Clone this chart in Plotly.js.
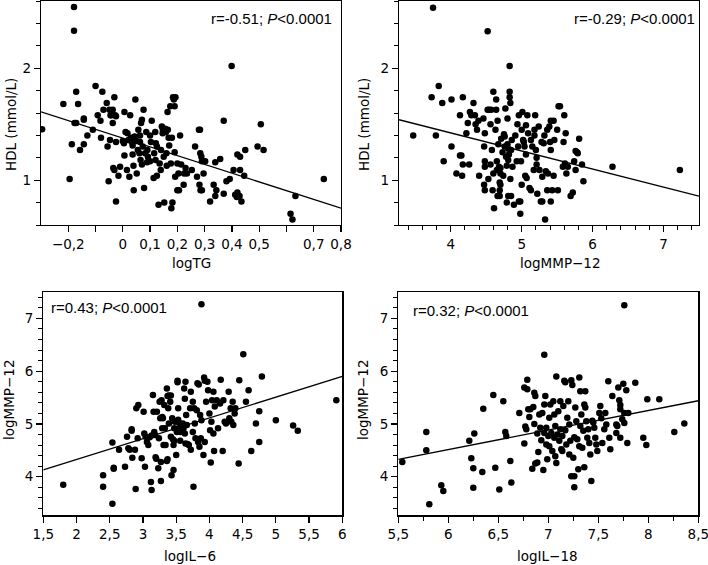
<!DOCTYPE html>
<html>
<head>
<meta charset="utf-8">
<script src="https://cdn.plot.ly/plotly-3.0.1.min.js"></script>
<style>
	html, body {margin:0; padding:0; background:#fff;}
	#myDiv {width:708px; height:565px;}
</style>
</head>
<body>
<div id="myDiv"></div>
<script>
// 散布図データ [x, y]
const pts_TG_HDL = [
	[-0.179,2.546],[-0.179,2.335],[0.399,2.02],[-0.296,1.454],[-0.218,1.68],[-0.171,1.79],[-0.164,1.68],[-0.177,1.51],
	[-0.171,1.51],[-0.143,1.55],[-0.143,1.54],[-0.13,1.40],[-0.11,1.45],[-0.187,1.32],[-0.157,1.27],[-0.143,1.32],
	[-0.195,1.01],[-0.1,1.84],[-0.092,1.58],[-0.082,1.53],[-0.08,1.38],[-0.075,1.79],[-0.071,1.63],[-0.059,1.69],
	[-0.056,1.30],[-0.052,0.99],[-0.049,1.63],[-0.045,1.58],[-0.037,1.63],[-0.043,1.58],[-0.037,1.51],[-0.031,1.74],
	[-0.028,1.58],[-0.025,1.57],[-0.047,1.36],[-0.035,1.11],[-0.031,1.09],[-0.025,1.34],[-0.025,0.81],[-0.016,1.04],
	[0.0,1.35],[0.004,1.33],[0.006,1.61],[0.006,1.22],[0.015,1.09],[0.017,1.42],[0.021,1.36],[0.024,1.03],
	[0.027,1.58],[0.03,1.38],[0.033,1.34],[0.036,1.31],[0.036,1.23],[0.039,1.13],[0.04,0.91],[0.043,1.39],
	[0.046,1.72],[0.051,1.06],[0.055,1.27],[0.057,1.45],[0.061,1.24],[0.063,1.40],[0.063,1.34],[0.067,1.51],
	[0.07,1.54],[0.07,1.14],[0.073,1.30],[0.076,1.63],[0.078,0.93],[0.082,1.24],[0.086,1.43],[0.089,1.16],
	[0.092,1.21],[0.1,1.17],[0.103,1.34],[0.106,1.53],[0.113,1.02],[0.115,1.24],[0.119,1.43],[0.121,1.33],
	[0.125,1.30],[0.125,1.04],[0.131,0.78],[0.135,1.15],[0.139,1.09],[0.143,1.48],[0.146,1.42],[0.147,1.45],
	[0.15,1.21],[0.152,0.80],[0.155,1.46],[0.158,1.43],[0.161,1.13],[0.164,1.61],[0.165,1.45],[0.168,1.38],
	[0.17,1.31],[0.174,1.66],[0.176,1.15],[0.178,0.75],[0.18,1.38],[0.182,0.80],[0.184,1.74],[0.187,1.72],
	[0.19,1.66],[0.193,1.74],[0.19,1.25],[0.192,1.03],[0.2,0.91],[0.206,0.91],[0.204,1.06],[0.21,1.40],
	[0.214,1.14],[0.223,0.96],[0.225,1.06],[0.23,1.11],[0.235,1.06],[0.253,1.09],[0.265,1.30],[0.272,1.03],
	[0.281,0.96],[0.285,0.91],[0.29,0.91],[0.279,1.45],[0.283,1.45],[0.284,1.24],[0.288,1.21],[0.29,1.17],
	[0.296,1.06],[0.302,1.17],[0.32,0.81],[0.333,0.96],[0.339,1.16],[0.339,0.86],[0.343,0.91],[0.357,1.19],
	[0.37,1.53],[0.37,0.88],[0.38,0.99],[0.392,1.01],[0.406,1.09],[0.412,0.87],[0.418,0.85],[0.42,0.89],
	[0.422,0.86],[0.428,0.86],[0.42,1.23],[0.43,1.21],[0.43,1.09],[0.435,0.81],[0.445,1.04],[0.449,1.27],
	[0.494,1.30],[0.506,1.50],[0.516,1.27],[0.615,0.70],[0.622,0.65],[0.633,0.86],[0.737,1.01],
	[0.05,1.35],[0.09,1.27],[0.12,1.18],[0.14,1.27],[0.16,1.24],[0.065,1.18],[0.01,1.43],[0.1,1.40],[0.2,1.15],[-0.01,1.12]
]
const pts_MMP_HDL = [
	[3.75,2.54],[4.52,2.33],[4.83,2.02],[3.47,1.40],[3.73,1.74],[3.83,1.84],[3.79,1.40],[3.88,1.69],[3.90,1.17],
	[4.01,1.72],[4.01,1.30],[4.08,1.06],[4.13,1.58],[4.13,1.22],[4.15,1.22],[4.17,1.74],[4.17,1.14],[4.16,1.04],
	[4.22,1.42],[4.24,1.51],[4.26,1.14],[4.27,1.61],[4.29,1.58],[4.32,1.69],[4.34,1.58],[4.35,1.50],[4.37,1.45],
	[4.39,1.53],[4.40,1.04],[4.46,1.55],[4.47,1.30],[4.47,0.96],[4.48,1.42],[4.48,0.91],[4.48,1.17],[4.48,1.12],
	[4.52,1.63],[4.53,1.01],[4.54,1.63],[4.56,1.50],[4.56,1.14],[4.57,1.63],[4.58,1.27],[4.59,0.91],[4.60,1.79],
	[4.60,1.06],[4.61,0.75],[4.63,1.45],[4.64,1.72],[4.64,1.63],[4.65,1.09],[4.65,1.17],[4.66,0.86],[4.66,1.53],
	[4.67,1.32],[4.68,1.12],[4.69,0.98],[4.70,0.96],[4.69,0.86],[4.70,1.11],[4.70,1.06],[4.69,0.91],[4.71,1.37],
	[4.73,1.25],[4.74,1.04],[4.75,1.41],[4.76,1.39],[4.76,1.30],[4.77,1.64],[4.78,1.21],[4.79,0.80],[4.79,1.13],
	[4.80,1.55],[4.80,1.32],[4.81,1.28],[4.81,1.18],[4.82,1.23],[4.83,1.79],[4.83,1.74],[4.84,1.69],[4.84,1.01],
	[4.85,1.27],[4.81,0.86],[4.85,0.86],[4.86,1.36],[4.87,1.12],[4.89,0.78],[4.91,1.40],[4.93,1.17],[4.94,1.50],
	[4.95,1.30],[4.96,1.58],[4.96,0.81],[4.98,0.81],[4.98,0.70],[4.99,1.17],[5.00,0.96],[5.00,1.45],[5.01,1.61],
	[5.02,1.36],[5.03,1.34],[5.04,1.30],[5.05,1.04],[5.07,1.02],[5.06,1.49],[5.06,1.23],[5.08,1.58],[5.09,1.42],
	[5.11,0.93],[5.13,0.91],[5.13,1.36],[5.15,1.30],[5.17,1.09],[5.18,1.45],[5.18,1.40],[5.19,1.58],[5.20,1.27],
	[5.21,1.20],[5.21,1.14],[5.22,0.88],[5.24,1.48],[5.25,1.09],[5.27,0.81],[5.29,0.81],[5.28,1.34],[5.29,1.03],
	[5.31,1.33],[5.32,1.40],[5.33,0.65],[5.34,1.08],[5.37,1.06],[5.36,1.45],[5.36,0.91],[5.39,1.48],[5.40,1.34],
	[5.41,1.27],[5.41,1.53],[5.41,0.81],[5.43,0.91],[5.45,1.53],[5.45,1.04],[5.46,1.36],[5.50,1.45],[5.51,0.91],
	[5.52,1.66],[5.54,1.66],[5.58,1.12],[5.59,1.34],[5.60,1.58],[5.61,1.15],[5.62,1.42],[5.63,1.06],[5.65,1.12],
	[5.69,0.86],[5.72,0.89],[5.74,1.17],[5.76,1.26],[5.78,1.25],[5.79,1.24],[5.76,1.09],[5.81,1.37],[5.85,1.14],
	[5.87,0.99],[6.28,1.12],[7.23,1.09]
]
const pts_IL6_MMP = [
	[3.88,7.27],[4.51,6.32],[1.80,3.85],[2.40,4.03],[2.40,3.81],[2.54,3.49],[2.54,4.65],[2.56,4.17],[2.56,4.15],
	[2.64,4.51],[2.73,4.19],[2.76,4.76],[2.78,4.54],[2.80,4.51],[2.83,4.90],[2.83,4.87],[2.84,4.36],[2.88,4.51],
	[2.89,3.77],[2.90,5.30],[2.93,5.36],[2.92,4.73],[2.98,4.35],[3.01,5.23],[3.02,4.82],[3.03,4.19],[3.04,4.76],
	[3.06,4.66],[3.08,4.60],[3.10,4.75],[3.13,4.78],[3.12,3.90],[3.13,3.75],[3.15,5.55],[3.16,5.23],[3.17,4.85],
	[3.18,4.79],[3.19,4.37],[3.20,4.34],[3.21,5.23],[3.23,4.16],[3.24,4.73],[3.25,5.42],[3.26,5.11],[3.27,4.28],
	[3.27,3.92],[3.28,5.45],[3.29,4.92],[3.29,5.13],[3.30,5.11],[3.31,4.60],[3.32,5.36],[3.33,4.92],[3.34,4.60],
	[3.36,4.30],[3.37,4.33],[3.36,5.67],[3.37,5.53],[3.39,5.54],[3.38,5.30],[3.39,5.01],[3.41,5.42],[3.42,4.76],
	[3.42,5.54],[3.43,4.03],[3.44,5.11],[3.45,4.71],[3.47,4.68],[3.46,4.13],[3.46,4.60],[3.47,4.92],[3.48,5.04],
	[3.50,4.41],[3.51,4.85],[3.52,5.82],[3.52,5.79],[3.53,5.08],[3.54,5.03],[3.53,5.30],[3.54,4.92],[3.56,4.85],
	[3.56,4.68],[3.58,4.98],[3.60,5.01],[3.61,4.92],[3.62,5.67],[3.63,5.48],[3.63,4.82],[3.64,4.63],[3.64,5.80],
	[3.65,5.17],[3.66,4.98],[3.67,4.62],[3.69,4.60],[3.71,5.30],[3.72,4.51],[3.72,5.61],[3.75,5.42],[3.75,4.85],
	[3.76,3.81],[3.77,5.30],[3.78,5.01],[3.79,4.73],[3.81,5.26],[3.82,5.77],[3.83,4.66],[3.84,5.75],[3.85,4.57],
	[3.86,5.17],[3.87,4.73],[3.88,5.07],[3.91,4.41],[3.92,5.88],[3.93,5.82],[3.93,4.66],[3.95,5.42],[3.97,5.80],
	[3.98,5.64],[4.00,5.20],[4.01,4.88],[4.02,4.27],[4.03,5.04],[4.04,5.45],[4.06,5.61],[4.06,4.82],[4.07,4.49],
	[4.08,5.33],[4.11,5.45],[4.13,4.92],[4.16,5.39],[4.17,5.84],[4.20,4.49],[4.21,5.45],[4.23,5.04],[4.25,5.01],
	[4.29,5.61],[4.30,5.11],[4.32,5.30],[4.33,5.04],[4.35,5.42],[4.36,4.98],[4.38,5.20],[4.39,5.30],[4.44,4.25],
	[4.45,5.83],[4.55,5.42],[4.59,5.64],[4.63,4.49],[4.70,5.01],[4.75,5.24],[4.75,4.66],[4.79,5.90],[5.00,5.07],
	[5.26,4.97],[5.33,4.87],[5.91,5.45]
]
const pts_IL18_MMP = [
	[7.76,7.25],[6.96,6.31],[5.54,4.28],[5.78,4.85],[5.78,4.50],[5.81,3.48],[5.93,3.84],[5.95,3.73],[6.21,4.68],
	[6.23,4.35],[6.26,4.82],[6.25,4.16],[6.25,3.79],[6.35,5.29],[6.34,4.09],[6.45,5.55],[6.47,4.17],[6.51,3.76],
	[6.55,5.43],[6.57,4.85],[6.58,4.77],[6.62,4.30],[6.63,3.89],[6.71,5.21],[6.76,5.69],[6.76,4.63],[6.77,4.95],
	[6.79,5.84],[6.79,5.66],[6.78,4.90],[6.80,5.28],[6.82,5.28],[6.81,5.13],[6.85,5.32],[6.86,5.59],[6.87,5.53],
	[6.86,5.00],[6.87,4.25],[6.89,4.27],[6.84,4.15],[6.89,4.82],[6.90,4.47],[6.91,5.18],[6.92,4.93],[6.93,4.69],
	[6.94,5.21],[6.95,4.13],[6.96,5.37],[6.96,4.83],[6.97,5.53],[6.98,4.93],[6.98,4.61],[6.99,4.33],[7.00,4.77],
	[7.01,5.12],[7.01,4.58],[7.02,5.37],[7.03,4.83],[7.04,4.49],[7.05,5.43],[7.06,4.74],[7.06,5.18],[7.07,4.96],
	[7.07,4.39],[7.08,5.90],[7.08,4.26],[7.09,4.80],[7.10,5.24],[7.11,4.68],[7.12,4.90],[7.12,5.43],[7.13,4.52],
	[7.14,4.49],[7.14,4.77],[7.15,5.34],[7.16,5.82],[7.17,5.79],[7.17,4.88],[7.18,4.61],[7.19,5.12],[7.20,5.43],
	[7.21,4.99],[7.21,4.42],[7.22,4.68],[7.23,4.01],[7.26,4.01],[7.23,5.83],[7.24,5.74],[7.25,4.36],[7.26,4.75],
	[7.26,3.80],[7.27,5.31],[7.28,5.05],[7.29,4.71],[7.30,4.14],[7.31,5.88],[7.31,4.58],[7.32,5.62],[7.32,4.96],
	[7.33,5.18],[7.34,4.55],[7.35,4.87],[7.36,4.18],[7.36,5.37],[7.37,5.31],[7.37,5.62],[7.38,5.05],[7.39,4.74],
	[7.40,4.90],[7.41,4.64],[7.42,4.42],[7.43,3.92],[7.44,5.06],[7.45,5.03],[7.46,4.93],[7.47,4.74],[7.48,4.61],
	[7.49,4.49],[7.51,5.21],[7.52,5.34],[7.53,5.11],[7.54,4.64],[7.56,4.90],[7.57,5.21],[7.58,4.99],[7.60,5.81],
	[7.61,4.74],[7.62,4.52],[7.64,5.53],[7.68,4.99],[7.69,4.96],[7.68,4.83],[7.70,5.69],[7.71,5.45],[7.72,5.36],
	[7.72,4.74],[7.72,5.28],[7.74,5.09],[7.75,5.76],[7.76,5.02],[7.76,5.21],[7.78,5.64],[7.79,4.64],[7.80,5.21],
	[7.87,5.78],[7.95,4.74],[7.98,4.60],[7.99,5.47],[8.11,5.47],[8.26,4.85],[8.36,5.01]
]

// 回帰直線（端点）
const fit_TG_HDL   = {x:[-0.3, 0.8], y:[1.61, 0.75]}
const fit_MMP_HDL  = {x:[3.27, 7.5], y:[1.54, 0.857]}
const fit_IL6_MMP  = {x:[1.5, 6],    y:[4.13, 5.90]}
const fit_IL18_MMP = {x:[5.5, 8.5],  y:[4.33, 5.44]}

// 相関係数ラベル
const rLabels = ['r=-0.51; <i>P</i><0.0001', 'r=-0.29; <i>P</i><0.0001', 'r=0.43; <i>P</i><0.0001', 'r=0.32; <i>P</i><0.0001']

// 軸目盛
const tgTickVals = [-0.2,-0.1,0,0.1,0.2,0.3,0.4,0.5,0.6,0.7,0.8]
const tgTickText = ['\u22120,2','','0','0,1','0,2','0,3','0,4','0,5','','0,7','0,8']

// 表示設定
const dot = (pts, xa, ya) => ({
	x:pts.map(p => p[0]), y:pts.map(p => p[1]), xaxis:xa, yaxis:ya,
	type:'scatter', mode:'markers', marker:{color:'#000', size:6.5}, hoverinfo:'skip'
})
const fit = (f, xa, ya) => ({
	x:f.x, y:f.y, xaxis:xa, yaxis:ya,
	type:'scatter', mode:'lines', line:{color:'#000', width:1.3}, hoverinfo:'skip'
})

const data = [
	dot(pts_TG_HDL,'x','y'),    fit(fit_TG_HDL,'x','y'),
	dot(pts_MMP_HDL,'x2','y2'), fit(fit_MMP_HDL,'x2','y2'),
	dot(pts_IL6_MMP,'x3','y3'), fit(fit_IL6_MMP,'x3','y3'),
	dot(pts_IL18_MMP,'x4','y4'),fit(fit_IL18_MMP,'x4','y4')
]

const W = 708, H = 565
const px = v => v / W
const py = v => 1 - v / H

const ax = {
	showline:true, mirror:true, linecolor:'#000', linewidth:1.3,
	ticks:'outside', ticklen:6, tickwidth:1.2, tickcolor:'#000',
	showgrid:false, zeroline:false, fixedrange:true, ticklabeloverflow:'allow',
	tickfont:{family:'DejaVu Sans', size:13.5, color:'#000'}
}
const minor = d => ({dtick:d, tick0:0, ticks:'outside', ticklen:4, tickwidth:1, tickcolor:'#000', showgrid:false})

const topY = [py(225), py(1)]
const botY = [py(515.3), py(292)]

const axisTitle = (text, x, y, rot) => ({
	text:text, x:px(x), y:py(y), xref:'paper', yref:'paper', showarrow:false,
	xanchor:'center', yanchor:'middle', textangle:rot || 0,
	font:{family:'DejaVu Sans', size:13.5, color:'#000'}
})
const rNote = (text, x, y, anchor) => ({
	text:text, x:px(x), y:py(y), xref:'paper', yref:'paper', showarrow:false,
	xanchor:anchor, yanchor:'middle',
	font:{family:'Liberation Sans, Arial', size:15, color:'#000'}
})

const layout = {
	width:W, height:H,
	margin:{l:0, r:0, t:0, b:0},
	paper_bgcolor:'#fff', plot_bgcolor:'#fff',
	showlegend:false, separators:', ',
	font:{family:'DejaVu Sans', size:13.5, color:'#000'},
	xaxis: Object.assign({}, ax, {domain:[px(41), px(341)], range:[-0.3, 0.8], tickmode:'array', tickvals:tgTickVals, ticktext:tgTickText, anchor:'y'}),
	yaxis: Object.assign({}, ax, {domain:topY, range:[0.6, 2.6], dtick:1, tick0:0, minor:minor(0.2), anchor:'x'}),
	xaxis2:Object.assign({}, ax, {domain:[px(399), px(699)], range:[3.27, 7.5], dtick:1, tick0:0, minor:minor(0.2), anchor:'y2'}),
	yaxis2:Object.assign({}, ax, {domain:topY, range:[0.6, 2.6], dtick:1, tick0:0, minor:minor(0.2), anchor:'x2'}),
	xaxis3:Object.assign({}, ax, {domain:[px(43.3), px(342.3)], range:[1.5, 6], dtick:0.5, tick0:0, anchor:'y3'}),
	yaxis3:Object.assign({}, ax, {domain:botY, range:[3.27, 7.5], dtick:1, tick0:0, minor:minor(0.2), anchor:'x3'}),
	xaxis4:Object.assign({}, ax, {domain:[px(398.3), px(698.3)], range:[5.5, 8.5], dtick:0.5, tick0:0, minor:minor(0.25), anchor:'y4'}),
	yaxis4:Object.assign({}, ax, {domain:botY, range:[3.27, 7.5], dtick:1, tick0:0, minor:minor(0.2), anchor:'x4'}),
	annotations:[
		axisTitle('logTG', 191, 263),
		axisTitle('HDL (mmol/L)', 11, 125, -90),
		axisTitle('logMMP\u221212', 560, 263),
		axisTitle('HDL (mmol/L)', 364, 125, -90),
		axisTitle('logIL\u22126', 190, 556),
		axisTitle('logMMP\u221212', 9, 400, -90),
		axisTitle('logIL\u221218', 547, 556),
		axisTitle('logMMP\u221212', 363, 400, -90),
		rNote(rLabels[0], 334, 18, 'right'),
		rNote(rLabels[1], 697, 18, 'right'),
		rNote(rLabels[2], 49, 307, 'left'),
		rNote(rLabels[3], 411, 310, 'left')
	]
}

const config = {
	displayModeBar:false,
	responsive:false,
	staticPlot:true
}

Plotly.newPlot('myDiv', data, layout, config)
</script>
</body>
</html>
